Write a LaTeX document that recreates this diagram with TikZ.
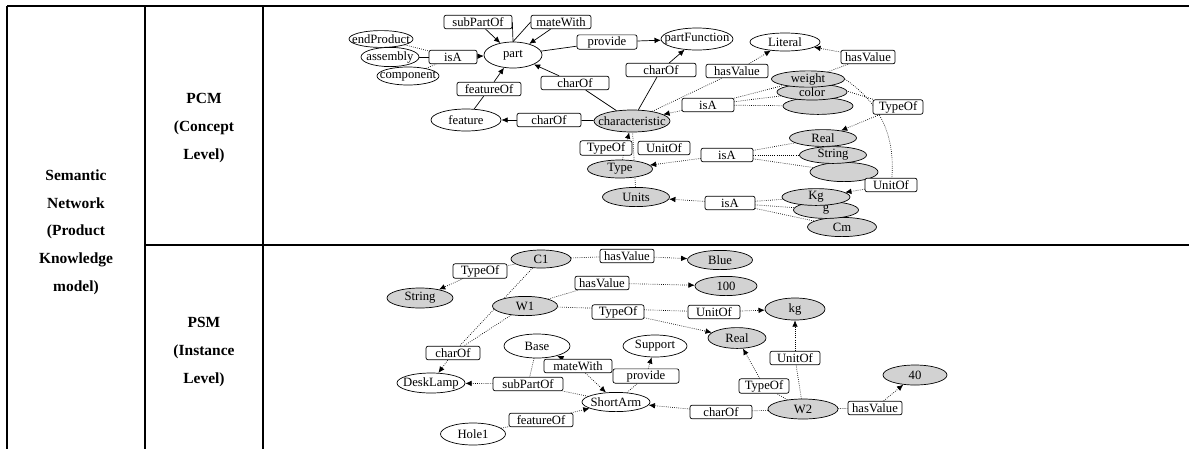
\documentclass[tikz,border=0pt]{standalone}
\usepackage{fontspec}
\setmainfont{Liberation Serif}
\usepackage{tikz}
\usetikzlibrary{arrows.meta,shapes.geometric,backgrounds}
\tikzset{
    table line/.style={line width=0.9pt},
    head text/.style={align=center,font=\bfseries\fontsize{11}{19.7}\selectfont},
    concept/.style={ellipse,draw,line width=0.5pt,fill=white,inner xsep=-5pt,inner ysep=0pt,minimum width=#1,minimum height=0.48cm},
    concept/.default=1.65cm,
    value/.style={concept=#1,fill=gray!35},
    value/.default=1.65cm,
    relbox/.style={draw,line width=0.5pt,rounded corners=1.5pt,fill=white,inner xsep=3pt,inner ysep=1pt,minimum height=0.34cm,minimum width=1.2cm},
    link/.style={line width=0.5pt},
    prop/.style={densely dotted,line width=0.5pt},
    arr/.style={-{Latex[length=4.5pt,width=4pt]}},
}
\tikzstyle{every node}=[font=\fontsize{9}{10}\selectfont]

\begin{document}
\begin{tikzpicture}[x=0.025cm,y=-0.025cm]
    \useasboundingbox (0,0) rectangle (1189,449);

    % table
    \draw[table line] (7,6) -- (1189,6);
    \draw[table line] (7,6) -- (7,449);
    \draw[table line] (145,6) -- (145,449);
    \draw[table line] (263,6) -- (263,449);
    \draw[table line] (145,245) -- (1189,245);

    \node[head text] (semnet) at (76,232) {Semantic\\Network\\(Product\\Knowledge\\model)};
    \node[head text] (pcm) at (204,128) {PCM\\(Concept\\Level)};
    \node[head text] (psm) at (204,352) {PSM\\(Instance\\Level)};

    % PCM (concept level)
    \node[concept=1.6cm,minimum height=0.42cm] (endProduct) at (381,39) {endProduct};
    \node[concept=1.45cm] (assembly) at (390,57) {assembly};
    \node[concept=1.55cm,minimum height=0.45cm] (component) at (408,76) {component};
    \node[relbox] (isAa) at (453,57) {isA};
    \node[concept=1.45cm,minimum height=0.65cm] (part) at (513,55) {part};
    \node[relbox,minimum width=1.7cm] (subPartOf) at (478,22) {subPartOf};
    \node[relbox,minimum width=1.5cm] (mateWith) at (561,22) {mateWith};
    \node[relbox,minimum width=1.5cm] (provide) at (607,42) {provide};
    \node[concept=1.8cm,minimum height=0.55cm] (partFunction) at (697,39) {partFunction};
    \node[relbox,minimum width=1.75cm] (charOfc) at (661,70) {charOf};
    \node[relbox,minimum width=1.7cm] (charOfb) at (575,83) {charOf};
    \node[relbox,minimum width=1.6cm] (featureOf) at (489,89) {featureOf};
    \node[concept=1.75cm,minimum height=0.55cm] (feature) at (466,120) {feature};
    \node[relbox,minimum width=1.6cm] (charOfa) at (549,120) {charOf};
    \node[value=1.9cm,minimum height=0.55cm] (characteristic) at (632,121) {characteristic};

    \node[concept=1.75cm,minimum height=0.45cm] (Literal) at (785,42) {Literal};
    \node[relbox,minimum width=1.55cm] (hasValuea) at (737,71) {hasValue};
    \node[relbox,minimum width=1.35cm] (hasValueb) at (868,57) {hasValue};
    \node[value=1.75cm,minimum height=0.42cm] (blanka) at (818,106) {};
    \node[value=1.75cm,minimum height=0.4cm] (color) at (812,92) {color};
    \node[value=1.825cm,minimum height=0.4cm] (weight) at (808,79) {weight};
    \node[relbox,minimum width=1.3cm] (isAb) at (708,105) {isA};
    \node[relbox,minimum width=1.25cm] (TypeOfb) at (898,107) {TypeOf};

    \node[relbox,minimum width=1.3cm] (TypeOfa) at (606,148) {TypeOf};
    \node[relbox,minimum width=1.3cm] (UnitOfa) at (664,148) {UnitOf};
    \node[value=1.625cm,minimum height=0.45cm] (Type) at (620,169) {Type};
    \node[value=1.675cm] (Units) at (636,197) {Units};
    \node[relbox,minimum width=1.3cm] (isAc) at (727,155) {isA};
    \node[relbox,minimum width=1.25cm] (isAd) at (730,203) {isA};
    \node[value=1.7cm,minimum height=0.48cm] (blankb) at (844,172) {};
    \node[value=1.675cm,minimum height=0.42cm] (String) at (833,155) {String};
    \node[value=1.675cm,minimum height=0.42cm] (Real) at (823,138) {Real};
    \node[relbox,minimum width=1.3cm] (UnitOfb) at (891,185) {UnitOf};
    \node[value=1.725cm] (Cm) at (842,227) {Cm};
    \node[value=1.625cm,minimum height=0.42cm] (g) at (826,210) {g};
    \node[value=1.7cm,minimum height=0.42cm] (Kg) at (816,197) {Kg};

    % PSM (instance level)
    \node[value=1.5cm,minimum height=0.45cm] (C1) at (541,259) {C1};
    \node[relbox,minimum width=1.35cm] (TypeOfc) at (480,271) {TypeOf};
    \node[value=1.65cm,minimum height=0.5cm] (Stringb) at (420,298) {String};
    \node[value=1.625cm] (W1) at (525,306) {W1};
    \node[relbox,minimum width=1.3cm] (hasValuec) at (627,256) {hasValue};
    \node[value=1.625cm] (Blue) at (720,260) {Blue};
    \node[relbox,minimum width=1.35cm] (hasValued) at (602,283) {hasValue};
    \node[value=1.55cm] (vhundred) at (726,286) {100};
    \node[relbox,minimum width=1.3cm] (TypeOfd) at (618,312) {TypeOf};
    \node[relbox,minimum width=1.3cm] (UnitOfc) at (714,312) {UnitOf};
    \node[value=1.5cm,minimum height=0.55cm] (kg) at (795,309) {kg};
    \node[value=1.45cm,minimum height=0.52cm] (Realb) at (737,338) {Real};
    \node[concept=1.6cm,minimum height=0.55cm] (Support) at (655,346) {Support};
    \node[concept=1.65cm,minimum height=0.6cm] (Base) at (537,346) {Base};
    \node[relbox,minimum width=1.35cm] (charOfd) at (453,353) {charOf};
    \node[relbox,minimum width=1.7cm] (mateWithb) at (578,366) {mateWith};
    \node[relbox,minimum width=1.65cm] (provideb) at (646,376) {provide};
    \node[concept=1.7cm,minimum height=0.5cm] (DeskLamp) at (431,383) {DeskLamp};
    \node[relbox,minimum width=1.75cm] (subPartOfb) at (528,384) {subPartOf};
    \node[concept=1.7cm] (ShortArm) at (616,402) {ShortArm};
    \node[relbox,minimum width=1.55cm] (charOfe) at (721,412) {charOf};
    \node[relbox,minimum width=1.25cm] (TypeOfe) at (764,386) {TypeOf};
    \node[relbox,minimum width=1.25cm] (UnitOfd) at (795,358) {UnitOf};
    \node[value=1.75cm,minimum height=0.5cm] (W2) at (803,409) {W2};
    \node[relbox,minimum width=1.25cm] (hasValuee) at (875,408) {hasValue};
    \node[value=1.6cm,minimum height=0.5cm] (vforty) at (915,375) {40};
    \node[relbox,minimum width=1.6cm] (featureOfb) at (541,420) {featureOf};
    \node[concept=1.625cm,minimum height=0.55cm] (Hole1) at (473,434) {Hole1};

    \begin{scope}[on background layer]
        % PCM links
        \draw[prop] (endProduct) -- (isAa);
        \draw[link] (assembly) -- (isAa);
        \draw[prop] (component) -- (isAa);
        \draw[link,arr] (isAa) -- (part);
        \draw[link,arr] (subPartOf) -- (part);
        \draw[link] (subPartOf.east) -- (part.north);
        \draw[link,arr] (mateWith) -- (part);
        \draw[link] (mateWith.west) -- (part.north);
        \draw[link] (part) -- (provide);
        \draw[link,arr] (provide) -- (partFunction);
        \draw[link] (characteristic) -- (charOfc);
        \draw[link,arr] (charOfc) -- (partFunction);
        \draw[link] (characteristic) -- (charOfb);
        \draw[link,arr] (charOfb) -- (part);
        \draw[link] (characteristic) -- (charOfa);
        \draw[link,arr] (charOfa) -- (feature);
        \draw[link] (feature) -- (featureOf);
        \draw[link,arr] (featureOf) -- (part);

        \draw[prop] (characteristic) -- (hasValuea);
        \draw[prop,arr] (hasValuea) -- (Literal);
        \draw[prop] (weight) -- (hasValueb);
        \draw[prop,arr] (hasValueb) -- (Literal);
        \draw[prop,arr] (isAb) -- (characteristic);
        \draw[prop] (isAb) -- (weight);
        \draw[prop] (isAb) -- (color);
        \draw[prop] (isAb) -- (blanka);
        \draw[prop] (weight) -- (TypeOfb);
        \draw[prop,arr] (TypeOfb) -- (Real);
        \draw[prop] (weight.east) to[bend left=30] (UnitOfb);
        \draw[prop,arr] (UnitOfb) -- (Kg);

        \draw[prop,arr] (Type) -- (characteristic);
        \draw[prop] (Units) -- (characteristic);
        \draw[prop,arr] (isAc) -- (Type);
        \draw[prop] (isAc) -- (Real);
        \draw[prop] (isAc) -- (String);
        \draw[prop] (isAc) -- (blankb);
        \draw[prop,arr] (isAd) -- (Units);
        \draw[prop] (isAd) -- (Kg);
        \draw[prop] (isAd) -- (g);
        \draw[prop] (isAd) -- (Cm);

        % PSM links
        \draw[prop] (C1) -- (TypeOfc);
        \draw[prop,arr] (TypeOfc) -- (Stringb);
        \draw[prop] (C1) -- (hasValuec);
        \draw[prop,arr] (hasValuec) -- (Blue);
        \draw[prop] (W1) -- (hasValued);
        \draw[prop,arr] (hasValued) -- (vhundred);
        \draw[prop] (W1) -- (UnitOfc);
        \draw[prop,arr] (UnitOfc) -- (kg);
        \draw[prop,arr] (TypeOfd) -- (Realb);
        \draw[prop] (C1) -- (charOfd);
        \draw[prop] (W1) -- (charOfd);
        \draw[prop,arr] (charOfd) -- (DeskLamp);
        \draw[prop] (Base) -- (subPartOfb);
        \draw[prop] (ShortArm) -- (subPartOfb);
        \draw[prop,arr] (subPartOfb) -- (DeskLamp);
        \draw[prop,arr] (mateWithb) -- (Base);
        \draw[prop,arr] (mateWithb) -- (ShortArm);
        \draw[prop] (ShortArm) -- (provideb);
        \draw[prop,arr] (provideb) -- (Support);
        \draw[prop] (W2) -- (charOfe);
        \draw[prop,arr] (charOfe) -- (ShortArm);
        \draw[prop] (W2) -- (TypeOfe);
        \draw[prop,arr] (TypeOfe) -- (Realb);
        \draw[prop] (W2) -- (UnitOfd);
        \draw[prop,arr] (UnitOfd) -- (kg);
        \draw[prop] (W2) -- (hasValuee);
        \draw[prop,arr] (hasValuee) -- (vforty);
        \draw[prop] (Hole1) -- (featureOfb);
        \draw[prop,arr] (featureOfb) -- (ShortArm);
    \end{scope}
\end{tikzpicture}
\end{document}
